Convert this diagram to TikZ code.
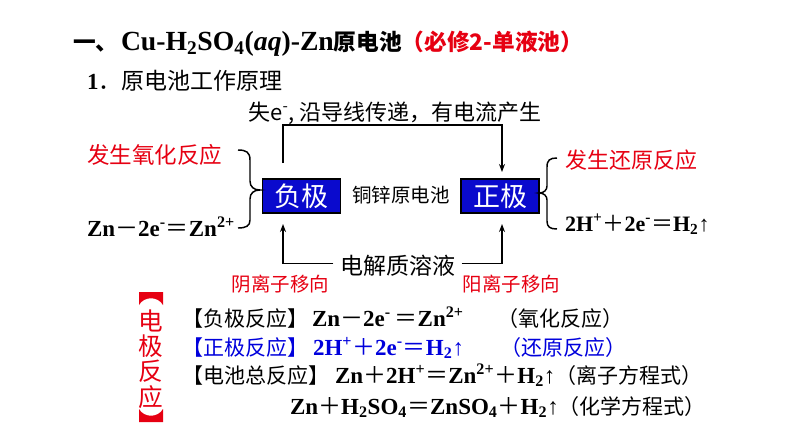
\documentclass[tikz,border=0pt]{standalone}
\usepackage{fontspec}
\setmainfont{Liberation Serif}
\newfontfamily\cjk{Noto Sans CJK SC}
\usetikzlibrary{arrows.meta}
\definecolor{pptred}{RGB}{230,0,18}
\definecolor{pptblue}{RGB}{0,0,220}
\definecolor{boxblue}{RGB}{10,10,205}
\newcommand\fz[1]{\fontsize{#1}{#1}\selectfont}
\newcommand\sgn[1]{{\cjk\mdseries #1}}
\newcommand\upar{{\mdseries ↑}}
\begin{document}
\begin{tikzpicture}[x=0.75pt,y=-0.75pt,
  every node/.style={inner sep=0pt,outer sep=0pt},
  elbox/.style={draw=black,line width=0.8pt,fill=boxblue,text=white,minimum width=58.5pt,minimum height=25.5pt},
  conn/.style={line width=1.1pt},
  arr/.style={conn,-{Stealth[length=6pt,width=4.5pt]}},
  bracepath/.style={line width=1.1pt},
  redtxt/.style={text=pptred},
  vch/.style={text=pptred}]
\useasboundingbox (0,0) rectangle (794,447);

% title
\node[anchor=base west] (title) at (73,50) {\fz{17pt}\cjk\bfseries 一、\hspace{2pt}{\rmfamily\bfseries\fz{20.75pt}Cu-H\textsubscript{2}SO\textsubscript{4}(\textit{aq})-Zn}原电池{\color{pptred}（必修2-单液池）}};
\node[anchor=base west] (sub) at (87,89) {\fz{17.25pt}\textbf{1}{\cjk ．原电池工作原理}};

% wire
\node (wire) at (395,113) {\fz{16.5pt}\cjk 失e\textsuperscript{-}, 沿导线传递，有电流产生};
\coordinate (nt) at (283,163);
\coordinate (tl) at (283,125);
\coordinate (tr) at (502,125);
\coordinate (pt) at (502,172);
\draw[arr] (nt) -- (tl) -- (tr) -- (pt);

% electrodes
\node[elbox] (neg) at (301.5,196) {\fz{20.25pt}\cjk 负极};
\node[elbox] (pos) at (500,196) {\fz{20.25pt}\cjk 正极};
\node (cell) at (401,195) {\fz{14.6pt}\cjk 铜锌原电池};

% electrolyte
\node (elyte) at (397.5,266) {\fz{17.25pt}\cjk 电解质溶液};
\coordinate (nb) at (283,224);
\coordinate (pb) at (502,224);
\draw[arr] ([xshift=-5pt,yshift=2pt]elyte.west) -| (nb);
\draw[arr] ([xshift=5pt,yshift=2pt]elyte.east) -| (pb);
\node[redtxt] (anion) at (280.5,284) {\fz{14.6pt}\cjk 阴离子移向};
\node[redtxt] (cation) at (511.5,284) {\fz{14.6pt}\cjk 阳离子移向};

% left brace
\node[anchor=west,redtxt] (ox) at (87,155) {\fz{16.9pt}\cjk 发生氧化反应};
\node[anchor=base west] (negeq) at (87,236) {\fz{17.25pt}\bfseries Zn\sgn{－}2e\textsuperscript{-}\sgn{＝}Zn\textsuperscript{2+}};
\draw[bracepath] (238,150) .. controls (246,150) and (250,152) .. (250,160) -- (250,181) .. controls (250,187) and (254,190) .. (260,190) .. controls (254,190) and (250,193) .. (250,199) -- (250,220) .. controls (250,226) and (246,228) .. (238,228);

% right brace
\node[anchor=west,redtxt] (redn) at (565,160) {\fz{16.5pt}\cjk 发生还原反应};
\node[anchor=base west] (poseq) at (565,231) {\fz{16.5pt}\bfseries 2H\textsuperscript{+}\sgn{＋}2e\textsuperscript{-}\sgn{＝}H\textsubscript{2}\upar};
\draw[bracepath] (557,158) .. controls (550,158) and (547,160) .. (547,167) -- (547,186) .. controls (547,190) and (544,193) .. (539,193) .. controls (544,193) and (547,196) .. (547,200) -- (547,221) .. controls (547,227) and (550,229) .. (557,229);

% vertical label
\fill[pptred] (139,292) -- (163,292) -- (163,305) .. controls (158,296) and (144,296) .. (139,305) -- cycle;
\node[vch] (v1) at (151,321) {\fz{18.5pt}\cjk 电};
\node[vch] (v2) at (151,346) {\fz{18.5pt}\cjk 极};
\node[vch] (v3) at (151,371.5) {\fz{18.5pt}\cjk 反};
\node[vch] (v4) at (151,397) {\fz{18.5pt}\cjk 应};
\fill[pptred] (139,422) -- (163,422) -- (163,409) .. controls (158,418) and (144,418) .. (139,409) -- cycle;

% rows
\node[anchor=base west] (r1a) at (182,326) {\fz{15.75pt}\cjk 【负极反应】};
\node[anchor=base west] (r1b) at (312,326) {\fz{17.25pt}\bfseries Zn\sgn{－}2e\textsuperscript{-}\,\sgn{＝}Zn\textsuperscript{2+}};
\node[anchor=base west] (r1c) at (497,326) {\fz{15.75pt}\cjk （氧化反应）};

\node[anchor=base west,text=pptblue] (r2a) at (182,355) {\fz{15.75pt}\cjk 【正极反应】};
\node[anchor=base west,text=pptblue] (r2b) at (313,355) {\fz{17.25pt}\bfseries 2H\textsuperscript{+}\sgn{＋}2e\textsuperscript{-}\sgn{＝}H\textsubscript{2}\upar};
\node[anchor=base west,text=pptblue] (r2c) at (500,355) {\fz{15.75pt}\cjk （还原反应）};

\node[anchor=base west] (r3a) at (182,383) {\fz{15.75pt}\cjk 【电池总反应】};
\node[anchor=base west] (r3b) at (335,383) {\fz{17.25pt}\bfseries Zn\sgn{＋}2H\textsuperscript{+}\sgn{＝}Zn\textsuperscript{2+}\sgn{＋}H\textsubscript{2}\upar{\cjk\mdseries\fz{15.75pt}（离子方程式）}};

\node[anchor=base west] (r4) at (290,414) {\fz{17.25pt}\bfseries Zn\sgn{＋}H\textsubscript{2}SO\textsubscript{4}\sgn{＝}ZnSO\textsubscript{4}\sgn{＋}H\textsubscript{2}\upar{\cjk\mdseries\fz{15.75pt}（化学方程式）}};
\end{tikzpicture}
\end{document}
